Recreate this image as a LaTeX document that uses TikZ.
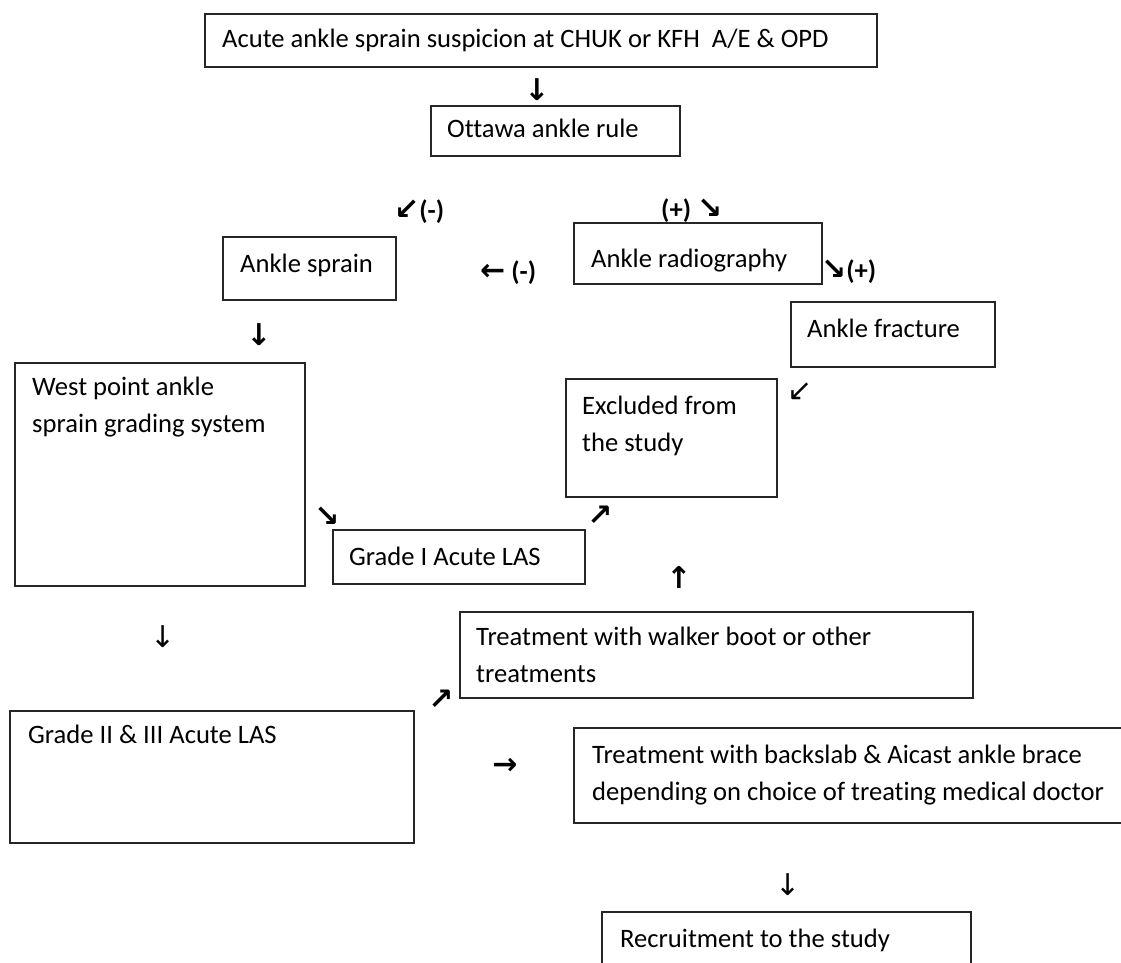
\documentclass[tikz,border=0pt]{standalone}
\usepackage{fontspec}
\setmainfont{Carlito}[Ligatures=CommonOff]
\newfontfamily\arrfont{DejaVu Sans}
\newcommand{\barr}[1]{{\arrfont\bfseries\fontsize{30}{30}\selectfont #1}}
\begin{document}
\begin{tikzpicture}[x=1pt,y=-1pt,
  box/.style={draw=black!85, line width=1.6pt, anchor=north west, inner sep=0pt, rectangle},
  txt/.style={anchor=base west, inner sep=0pt, font=\fontsize{26.6}{37.5}\selectfont},
  lbl/.style={anchor=west, inner sep=0pt, font=\fontsize{26.6}{30}\selectfont\bfseries},
  bsym/.style={inner sep=0pt, font=\arrfont\bfseries\fontsize{30}{30}\selectfont},
  tsym/.style={inner sep=0pt, font=\arrfont\fontsize{30}{30}\selectfont}
]
\path[use as bounding box, fill=white] (0,0) rectangle (1121,963);

% boxes
\node[box, minimum width=672pt, minimum height=53pt] (top) at (204,13) {};
\node[box, minimum width=249pt, minimum height=50pt] (ottawa) at (430,105) {};
\node[box, minimum width=173pt, minimum height=63pt] (sprain) at (222,236) {};
\node[box, minimum width=248pt, minimum height=61pt] (radio) at (573,222) {};
\node[box, minimum width=204pt, minimum height=65pt] (fracture) at (790,301) {};
\node[box, minimum width=290pt, minimum height=223pt] (west) at (14,362) {};
\node[box, minimum width=211pt, minimum height=118pt] (excluded) at (565,378) {};
\node[box, minimum width=252pt, minimum height=54pt] (gradeone) at (332,529) {};
\node[box, minimum width=513pt, minimum height=86pt] (walker) at (459,611) {};
\node[box, minimum width=404pt, minimum height=132pt] (gradetwo) at (9,710) {};
\node[box, minimum width=560pt, minimum height=95pt] (backslab) at (573,727) {};
\node[box, minimum width=369pt, minimum height=70pt] (recruit) at (601,911) {};

% texts
\node[txt] (ttop) at (222,48) {Acute ankle sprain suspicion at CHUK or KFH\ \ A/E \& OPD};
\node[txt] (tottawa) at (447,138) {Ottawa ankle rule};
\node[txt] (tsprain) at (240,272) {Ankle sprain};
\node[txt] (tradio) at (591,267) {Ankle radiography};
\node[txt] (tfracture) at (807,337) {Ankle fracture};
\node[txt] (twesta) at (32,395) {West point ankle};
\node[txt] (twestb) at (32,432.5) {sprain grading system};
\node[txt] (texcla) at (582,414) {Excluded from};
\node[txt] (texclb) at (582,451.5) {the study};
\node[txt] (tgradeone) at (349,565) {Grade I Acute LAS};
\node[txt] (twalkera) at (476,645) {Treatment with walker boot or other};
\node[txt] (twalkerb) at (476,682.5) {treatments};
\node[txt] (tgradetwo) at (28,743) {Grade II \& III Acute LAS};
\node[txt] (tbacka) at (592,763) {Treatment with backslab \& Aicast ankle brace};
\node[txt] (tbackb) at (592,800) {depending on choice of treating medical doctor};
\node[txt] (trecruit) at (620,947) {Recruitment to the study};

% arrow glyphs and labels
\node[bsym] (a1) at (537,90) {↓};
\node[lbl] (l1) at (394,212) {\barr{↙}(-)};
\node[lbl] (l2) at (661,211) {(+) \barr{↘}};
\node[lbl] (l3) at (480,273) {\barr{←} (-)};
\node[lbl] (l4) at (821,272) {\barr{↘}(+)};
\node[bsym] (a2) at (259,335) {↓};
\node[inner sep=0pt, font=\arrfont\fontsize{30}{30}\selectfont] (a3) at (800,392) {↙};
\node[bsym] (a4) at (327,517) {↘};
\node[bsym] (a5) at (600,516) {↗};
\node[bsym] (a6) at (679,578) {↑};
\node[tsym] (a7) at (163,637) {↓};
\node[bsym] (a8) at (441,700) {↗};
\node[bsym] (a9) at (505,766) {→};
\node[tsym] (a10) at (788,885) {↓};
\end{tikzpicture}
\end{document}
